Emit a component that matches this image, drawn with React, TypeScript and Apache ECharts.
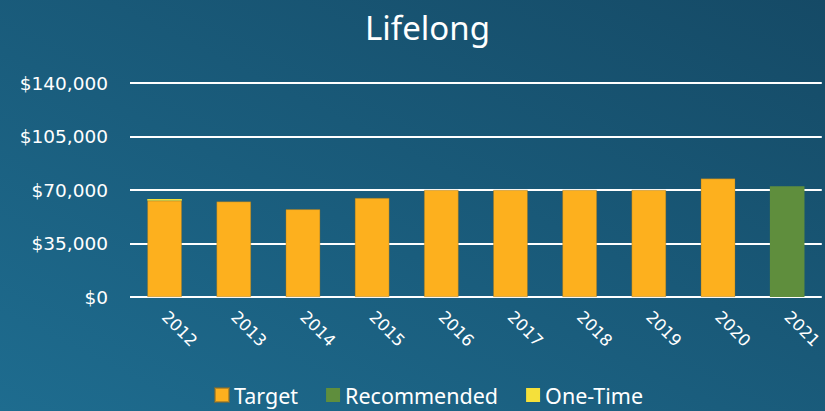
import React, { useEffect, useRef } from "react";
import * as echarts from "echarts";

const years = ["2012", "2013", "2014", "2015", "2016", "2017", "2018", "2019", "2020", "2021"];
const targetValues = [63000, 62500, 57400, 64800, 70000, 70000, 70000, 70000, 77500, null];
const recommendedValues = [null, null, null, null, null, null, null, null, null, 72400];
const oneTimeValues = [1100, null, null, null, null, null, null, null, null, null];
const yTicks = { min: 0, max: 140000, interval: 35000 };

export default function App() {
  const ref = useRef<HTMLDivElement>(null);
  useEffect(() => {
    if (!ref.current) return;
    const chart = echarts.init(ref.current, null, { renderer: "svg" });
    const font = "'Noto Sans', 'Open Sans', sans-serif";
    const axisFont = "'DejaVu Sans', 'Noto Sans', sans-serif";
    chart.setOption({
      animation: false,
      backgroundColor: new echarts.graphic.LinearGradient(0, 1, 1, 0, [
        { offset: 0, color: "#1e6c8f" },
        { offset: 1, color: "#154a66" },
      ]),
      title: {
        text: "Lifelong",
        left: 360,
        top: 6,
        textStyle: { color: "#ffffff", fontSize: 33, fontWeight: "normal", fontFamily: font },
      },
      legend: {
        bottom: 0,
        left: 209,
        itemWidth: 14,
        itemHeight: 14,
        itemGap: 28,
        icon: "rect",
        textStyle: { color: "#ffffff", fontSize: 21.5, fontFamily: font },
        data: ["Target", "Recommended", "One-Time"],
      },
      grid: { left: 130, right: 3, top: 83, bottom: 114, containLabel: false },
      xAxis: {
        type: "category",
        data: years,
        axisLine: { show: false },
        axisTick: { show: false },
        axisLabel: { color: "#ffffff", fontSize: 16.5, fontFamily: axisFont, rotate: -45, margin: 17 },
      },
      yAxis: {
        type: "value",
        min: yTicks.min,
        max: yTicks.max,
        interval: yTicks.interval,
        axisLine: { show: false },
        axisTick: { show: false },
        splitLine: { lineStyle: { color: "#ffffff", width: 2 } },
        axisLabel: {
          color: "#ffffff",
          fontSize: 18.5,
          fontFamily: axisFont,
          margin: 22,
          formatter: (v: number) => "$" + v.toLocaleString("en-US"),
        },
      },
      series: [
        {
          name: "Target",
          type: "bar",
          stack: "s",
          barWidth: "50%",
          data: targetValues,
          itemStyle: { color: "#fdb01e", borderColor: "rgba(140,110,40,0.6)", borderWidth: 0.6 },
        },
        {
          name: "Recommended",
          type: "bar",
          stack: "s",
          barWidth: "50%",
          data: recommendedValues,
          itemStyle: { color: "#5f8e3d" },
        },
        {
          name: "One-Time",
          type: "bar",
          stack: "s",
          barWidth: "50%",
          data: oneTimeValues,
          itemStyle: { color: "#f5e03a" },
        },
      ],
    });
    return () => chart.dispose();
  }, []);
  return (
    <div
      ref={ref}
      style={{ position: "fixed", left: 0, top: 0, width: 825, height: 411 }}
    />
  );
}
